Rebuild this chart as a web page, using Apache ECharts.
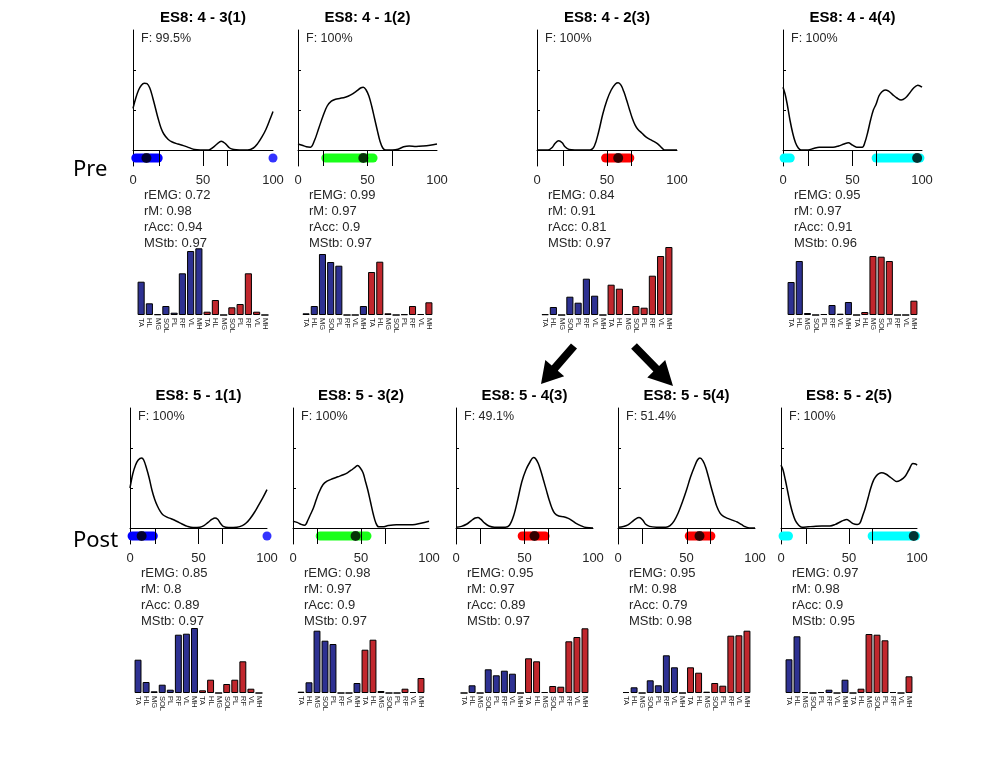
<!DOCTYPE html>
<html><head><meta charset="utf-8">
<script src="https://cdn.jsdelivr.net/npm/echarts@6/dist/echarts.min.js"></script>
<style>html,body{margin:0;padding:0;background:#fff}#c{width:1000px;height:778px}</style>
</head><body><div id="c"></div>
<script>
// ---------- DATA ----------
const titles = ['ES8: 4 - 3(1)','ES8: 4 - 1(2)','ES8: 4 - 2(3)','ES8: 4 - 4(4)',
                'ES8: 5 - 1(1)','ES8: 5 - 3(2)','ES8: 5 - 4(3)','ES8: 5 - 5(4)','ES8: 5 - 2(5)'];
const fValues = ['99.5%','100%','100%','100%','100%','100%','49.1%','51.4%','100%'];
const rEMG = [0.72,0.99,0.84,0.95,0.85,0.98,0.95,0.95,0.97];
const rM   = [0.98,0.97,0.91,0.97,0.8,0.97,0.97,0.98,0.98];
const rAcc = [0.94,0.9,0.81,0.91,0.89,0.9,0.89,0.79,0.9];
const MStb = [0.97,0.97,0.97,0.96,0.97,0.97,0.97,0.98,0.95];
const muscles = ['TA','HL','MG','SOL','PL','RF','VL','MH','TA','HL','MG','SOL','PL','RF','VL','MH'];
const xTicks = [0,50,100];

const curve0 = [[0,1.04],[2,1.3],[4,1.5],[6,1.62],[8,1.67],[10,1.66],[12,1.55],[14,1.32],[16,1.05],[18,0.78],[20,0.55],[22,0.4],[25,0.27],[28,0.2],[32,0.15],[36,0.11],[40,0.06],[44,0.01],[48,0],[54,0],[57,0.06],[60,0.15],[63,0.22],[66,0.16],[69,0.05],[72,0.01],[76,0],[82,0],[86,0.05],[89,0.16],[92,0.32],[95,0.52],[98,0.78],[100,0.96]];
const curve1 = [[0,0.15],[3,0.12],[6,0.08],[9,0.07],[12,0.25],[15,0.55],[18,0.85],[21,1.1],[24,1.22],[27,1.27],[30,1.29],[34,1.32],[38,1.38],[42,1.47],[45,1.55],[47,1.57],[49,1.5],[51,1.35],[53,1.1],[55,0.8],[57,0.5],[59,0.22],[61,0.05],[63,0],[68,0],[72,0.02],[76,0.08],[80,0.1],[85,0.09],[90,0.1],[95,0.12],[100,0.15]];
const curve2 = [[0,0],[8,0],[11,0.07],[13,0.17],[15.5,0.23],[18,0.18],[20,0.08],[23,0.01],[27,0],[38,0],[41,0.1],[44,0.45],[47,0.9],[50,1.25],[53,1.5],[56,1.65],[58,1.68],[60,1.62],[62,1.46],[64,1.25],[66,1.02],[68,0.8],[70,0.63],[72,0.52],[75,0.42],[78,0.32],[82,0.24],[86,0.16],[89,0.06],[91,0],[100,0]];
const curve3 = [[0,1.57],[1.5,1.4],[3,1.15],[5,0.75],[7,0.42],[9,0.18],[11,0.05],[13,0],[18,0],[22,0.04],[26,0.07],[30,0.07],[36,0.07],[40,0.1],[44,0.15],[47,0.18],[50,0.12],[53,0.07],[57,0.07],[59,0.2],[61,0.45],[63,0.75],[65,1.0],[67,1.15],[69,1.35],[71,1.45],[73.5,1.5],[76,1.47],[79,1.38],[82,1.3],[85,1.25],[88,1.3],[91,1.42],[94,1.55],[97,1.62],[100,1.57]];
const curve4 = [[0,1.0],[2,1.35],[4,1.57],[6,1.7],[8.5,1.75],[10,1.7],[12,1.5],[14,1.25],[16,0.95],[18,0.72],[20,0.55],[22,0.42],[24,0.33],[27,0.27],[30,0.23],[34,0.17],[38,0.1],[42,0.04],[46,0.01],[51,0.02],[54,0.06],[57,0.14],[60,0.22],[62,0.25],[64,0.22],[66,0.12],[68,0.04],[72,0.01],[78,0.02],[82,0.06],[85,0.13],[88,0.25],[91,0.4],[94,0.58],[97,0.76],[100,0.96]];
const curve5 = [[0,0.17],[3,0.14],[6,0.09],[8.6,0.07],[11,0.2],[13,0.35],[15,0.5],[17,0.7],[19,0.88],[22,1.08],[25,1.17],[29,1.23],[33,1.28],[37,1.33],[40,1.38],[43,1.45],[46,1.53],[47.5,1.56],[49.5,1.5],[51.5,1.38],[53,1.2],[55,0.95],[57,0.65],[59,0.35],[61,0.12],[63,0.03],[66,0.03],[70,0.06],[76,0.08],[82,0.08],[88,0.08],[94,0.12],[100,0.17]];
const curve6 = [[0,0.02],[4,0.04],[8,0.1],[11,0.18],[14,0.25],[16,0.26],[18,0.22],[21,0.12],[24,0.05],[28,0.02],[36,0.02],[39,0.07],[42,0.3],[45,0.7],[48,1.15],[51,1.45],[54,1.65],[56.5,1.76],[58,1.74],[60,1.62],[62,1.42],[64,1.18],[66,0.94],[68,0.7],[70,0.5],[72,0.37],[75,0.3],[78.5,0.28],[82,0.24],[85,0.18],[88,0.11],[91,0.06],[95,0.01],[100,0]];
const curve7 = [[0,0.02],[4,0.04],[7.3,0.08],[10,0.15],[13,0.23],[15.4,0.26],[18,0.2],[20,0.1],[23,0.04],[28,0.02],[35,0.02],[38,0.06],[41,0.18],[44,0.38],[47,0.65],[50,0.95],[53,1.28],[56,1.55],[58,1.7],[59.8,1.75],[62,1.68],[64,1.52],[66,1.28],[68,1.02],[70,0.78],[72,0.55],[74.5,0.37],[77,0.29],[80,0.24],[84,0.19],[87,0.15],[90,0.09],[93,0.03],[96,0],[100,0]];
const curve8 = [[0,1.57],[1.5,1.45],[3.2,1.2],[5,0.9],[6.8,0.6],[8.5,0.38],[10.5,0.19],[13,0.07],[15.4,0.02],[20,0.03],[24,0.04],[30,0.05],[36,0.05],[40,0.09],[43.4,0.15],[46,0.19],[48.3,0.21],[50.5,0.17],[53,0.11],[56,0.09],[58,0.12],[60,0.3],[62,0.5],[64,0.75],[66,1.0],[68,1.19],[70,1.3],[72,1.36],[74,1.38],[77,1.35],[80,1.28],[83,1.2],[85,1.16],[88,1.2],[91,1.28],[94,1.45],[97,1.61],[99,1.6],[100,1.57]];
const curves = [curve0,curve1,curve2,curve3,curve4,curve5,curve6,curve7,curve8];

// phase bands (start,end) along the gait cycle, single dots, peak marker
const bands = [[[2,18]],[[20,54]],[[49,66.3]],[[0.8,5.2],[67,98.5]],
               [[1.5,17]],[[20,54.4]],[[48.3,65]],[[52,67.8]],[[1.5,5.5],[67,99]]];
const bandDots = [[100],[],[],[],[100],[],[],[],[]];
const bandColors = ['#0000ff','#1aff1a','#ff0000','#00ffff','#0000ff','#1aff1a','#ff0000','#ff0000','#00ffff'];
const peakX = [9.6,47,58,96.5,8.5,46,57.3,59.5,97.6];
const events = [[18.7,50.2,67.5],[18,50,67.6],[18.6,50.2,67.4],[18,50,67],
                [18.3,50,67.6],[17.9,50.2,67.9],[17.6,50,67.6],[17.8,50.2,67],[18.5,50.2,67.3]];

// muscle activations (8 blue + 8 red)
const act0 = [33.3,11.7,0.7,9,2.3,41.7,64,66.7, 3.3,15,0,7.7,11,41.7,3.3,0];
const act1 = [1.7,9,61,53,49.3,0,0,9, 43,53.3,1.7,0,0.7,9,1,12.7];
const act2 = [0.7,8,0,18.3,12.3,36.3,19.3,0, 30.3,26.3,1,9,7.3,39.3,59,68];
const act3 = [33,54,2,0,1,10,1.3,13, 0,3,59,58.3,54,0,0,14.3];
const act4 = [33.3,11,1.7,8.3,3.3,58.3,59.3,65, 2.7,13.3,0,9,13.3,31.7,4.3,0];
const act5 = [1.3,10.7,62.3,52.3,49,0,0,10, 43.3,53.3,2,0,0,4.3,1,15];
const act6 = [0,7.7,0,23.7,17.7,22.3,19.3,0, 34.7,31.7,1,7,6.3,51.7,56,64.7];
const act7 = [1,5.7,0,12.7,7.7,37.7,25.7,0, 25.7,20.3,1.3,10,7.3,57.3,57.7,62.3];
const act8 = [33.7,56.7,1,0,1,3.3,0,13.3, 0,4.3,59,58.3,52.7,1,0,16.7];
const acts = [act0,act1,act2,act3,act4,act5,act6,act7,act8];

// ---------- LAYOUT ----------
const layout = [
 {l:133,w:140,t:30},{l:298,w:139,t:30},{l:537,w:140,t:30},{l:783,w:139,t:30},
 {l:130,w:137,t:408},{l:293,w:136,t:408},{l:456,w:137,t:408},{l:618,w:137,t:408},{l:781,w:136,t:408}
];
const FONT = '"Liberation Sans", Arial, Helvetica, sans-serif';
const BLUE = '#2e3192', RED = '#c1272d';

const grid=[], xAxis=[], yAxis=[], series=[], graphic=[];
layout.forEach((p,i)=>{
  grid.push({left:p.l, top:p.t, width:p.w, height:136});
  grid.push({left:p.l+4, top:p.t+215, width:p.w-8, height:70});
  const gi = 2*i;
  xAxis.push({gridIndex:gi, type:'value', min:0, max:100, interval:50,
    axisLine:{show:true, lineStyle:{color:'#000', width:1}}, axisTick:{show:false},
    splitLine:{show:false},
    axisLabel:{color:'#262626', fontSize:13, fontFamily:FONT, margin:8, customValues:xTicks}});
  yAxis.push({gridIndex:gi, type:'value', min:-0.4, max:3,
    axisLine:{show:true, lineStyle:{color:'#000', width:1}},
    axisTick:{show:true, inside:true, length:3, customValues:[1,2], lineStyle:{color:'#000'}},
    axisLabel:{show:false}, splitLine:{show:false}});
  xAxis.push({gridIndex:gi+1, type:'category', data:muscles,
    axisLine:{show:false}, axisTick:{show:false},
    axisLabel:{rotate:-90, fontSize:7.5, margin:3, interval:0, color:'#222', fontFamily:FONT}});
  yAxis.push({gridIndex:gi+1, type:'value', min:0, max:70, show:false, splitLine:{show:false}});

  series.push({type:'line', xAxisIndex:gi, yAxisIndex:gi, data:curves[i], smooth:0.35,
    showSymbol:false, lineStyle:{color:'#000', width:1.5}, z:2, silent:true});
  bands[i].forEach(b=>{
    series.push({type:'line', xAxisIndex:gi, yAxisIndex:gi, data:[[b[0],-0.2],[b[1],-0.2]],
      showSymbol:false, lineStyle:{color:bandColors[i], width:9, cap:'round'}, z:3, silent:true});
  });
  if (bandDots[i].length) series.push({type:'scatter', xAxisIndex:gi, yAxisIndex:gi,
    data:bandDots[i].map(x=>[x,-0.2]), symbolSize:9, itemStyle:{color:bandColors[i]}, z:3, silent:true});
  const ml = [{yAxis:0}];
  events[i].forEach(e=>ml.push([{coord:[e,-0.4]},{coord:[e,0]}]));
  series.push({type:'line', xAxisIndex:gi, yAxisIndex:gi, data:[], z:4, silent:true,
    markLine:{symbol:'none', silent:true, label:{show:false}, animation:false,
      lineStyle:{color:'#000', width:1, type:'solid'}, data:ml}});
  series.push({type:'scatter', xAxisIndex:gi, yAxisIndex:gi, data:[[peakX[i],-0.2]],
    symbolSize:10, itemStyle:{color:'#000'}, z:5, silent:true});
  series.push({type:'bar', xAxisIndex:gi+1, yAxisIndex:gi+1, barWidth:'86%', silent:true,
    data:acts[i].map((v,k)=>({value:v, itemStyle:{color:k<8?BLUE:RED}})),
    itemStyle:{borderColor:'#000', borderWidth:1}});

  graphic.push({type:'text', x:p.l+p.w/2, y:p.t-12, style:{text:titles[i], fill:'#000',
    font:'bold 15px '+FONT, align:'center', verticalAlign:'middle'}});
  graphic.push({type:'text', x:p.l+8, y:p.t+9, style:{text:'F: '+fValues[i], fill:'#262626',
    font:'12.5px '+FONT, align:'left', verticalAlign:'middle'}});
  const st = ['rEMG: '+rEMG[i],'rM: '+rM[i],'rAcc: '+rAcc[i],'MStb: '+MStb[i]];
  st.forEach((s,k)=>graphic.push({type:'text', x:p.l+11, y:p.t+165+16*k, style:{text:s, fill:'#262626',
    font:'13px '+FONT, align:'left', verticalAlign:'middle'}}));
});
graphic.push({type:'text', x:73, y:170, style:{text:'Pre', fill:'#000', font:'22px "Noto Sans", sans-serif', verticalAlign:'middle'}});
graphic.push({type:'text', x:73, y:541, style:{text:'Post', fill:'#000', font:'22px "Noto Sans", sans-serif', verticalAlign:'middle'}});

function arrow(tail, tip, sw, hw, hl){
  const dx=tip[0]-tail[0], dy=tip[1]-tail[1], L=Math.hypot(dx,dy);
  const ux=dx/L, uy=dy/L, nx=-uy, ny=ux;
  const bx=tip[0]-ux*hl, by=tip[1]-uy*hl;
  return [[tail[0]+nx*sw/2, tail[1]+ny*sw/2],[bx+nx*sw/2, by+ny*sw/2],[bx+nx*hw/2, by+ny*hw/2],
          tip,[bx-nx*hw/2, by-ny*hw/2],[bx-nx*sw/2, by-ny*sw/2],[tail[0]-nx*sw/2, tail[1]-ny*sw/2]];
}
graphic.push({type:'polygon', shape:{points:arrow([574,346],[541,384],8,25,21)}, style:{fill:'#000'}});
graphic.push({type:'polygon', shape:{points:arrow([634,346],[673,386],8,25,24)}, style:{fill:'#000'}});

const chart = echarts.init(document.getElementById('c'));
chart.setOption({animation:false, grid, xAxis, yAxis, series, graphic});
</script></body></html>
